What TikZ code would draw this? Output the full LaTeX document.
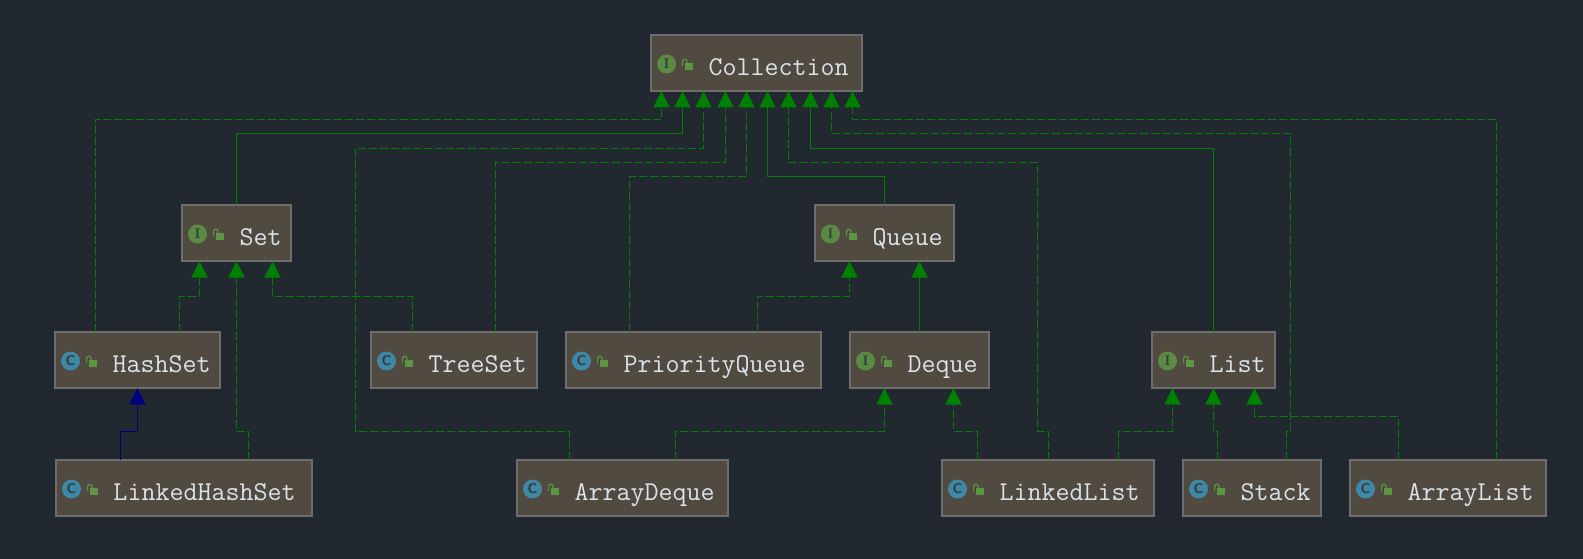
\documentclass[tikz,border=0pt]{standalone}
\usetikzlibrary{arrows.meta}

\definecolor{bgc}{HTML}{21282F}
\definecolor{boxc}{HTML}{504A40}
\definecolor{edgec}{HTML}{6E6E6E}
\definecolor{namec}{HTML}{DCE3E8}
\definecolor{linkc}{HTML}{008000}
\definecolor{navyc}{HTML}{000080}
\definecolor{ifacec}{HTML}{5B8A45}
\definecolor{classc}{HTML}{3E88A6}
\definecolor{lockc}{HTML}{5C9642}
\definecolor{letterc}{HTML}{2F3B3C}

\tikzstyle{b} = [rectangle, draw=edgec, fill=boxc, line width=1.1pt, outer sep=0pt, inner xsep=0pt, inner ysep=0pt, minimum height=56pt, align=left, text=namec, text height=30pt, text depth=4.6pt, font=\fontsize{27.2}{30}\selectfont\ttfamily, execute at begin node=\hspace*{57.5pt}]
\tikzstyle{badge} = [circle, inner sep=0pt, minimum size=19pt, text=letterc, font=\fontsize{14}{14}\selectfont]
\tikzstyle{impl} = [draw=linkc, line width=1.7pt, dash pattern=on 8pt off 3pt, -{Triangle[width=16pt,length=16.5pt,fill=linkc]}]
\tikzstyle{ext} = [draw=linkc, line width=1.7pt, -{Triangle[width=16pt,length=16.5pt,fill=linkc]}]
\tikzstyle{extc} = [draw=navyc, line width=1.7pt, -{Triangle[width=16pt,length=16.5pt,fill=navyc]}]

\newcommand{\ifaceletter}{\rmfamily\bfseries I}
\newcommand{\classletter}{\sffamily\bfseries C}

% badge and lock in front of a name
\newcommand{\icons}[3]{
\begin{scope}[shift={(#1.west)}]
\node [badge, fill=#3] (#1badge) at (15.5,1) {#2};
\fill [lockc] (33.6,0) rectangle (42,6.7);
\draw [lockc, line width=1.2pt] (31.6,3) -- (31.6,-1.5) .. controls (31.6,-4.5) and (36,-4.5) .. (36,-1.5) -- (36,0);
\end{scope}
}

\begin{document}
\begin{tikzpicture}[x=1pt,y=-1pt]
\fill [bgc] (0,0) rectangle (1583,559);

\node [b, text width=211pt] (Collection) at (756.5,63) {Collection};
\node [b, text width=109pt] (Set) at (236.5,233) {Set};
\node [b, text width=139pt] (Queue) at (884.5,233) {Queue};
\node [b, text width=165pt] (HashSet) at (137.5,360) {HashSet};
\node [b, text width=166pt] (TreeSet) at (454,360) {TreeSet};
\node [b, text width=255pt] (PriorityQueue) at (693.5,360) {PriorityQueue};
\node [b, text width=139pt] (Deque) at (919.5,360) {Deque};
\node [b, text width=123pt] (List) at (1213.5,360) {List};
\node [b, text width=256pt] (LinkedHashSet) at (184,488) {LinkedHashSet};
\node [b, text width=211pt] (ArrayDeque) at (622.5,488) {ArrayDeque};
\node [b, text width=212pt] (LinkedList) at (1048,488) {LinkedList};
\node [b, text width=138pt] (Stack) at (1252,488) {Stack};
\node [b, text width=196pt] (ArrayList) at (1448,488) {ArrayList};

\icons{Collection}{\ifaceletter}{ifacec}
\icons{Set}{\ifaceletter}{ifacec}
\icons{Queue}{\ifaceletter}{ifacec}
\icons{Deque}{\ifaceletter}{ifacec}
\icons{List}{\ifaceletter}{ifacec}
\icons{HashSet}{\classletter}{classc}
\icons{TreeSet}{\classletter}{classc}
\icons{PriorityQueue}{\classletter}{classc}
\icons{LinkedHashSet}{\classletter}{classc}
\icons{ArrayDeque}{\classletter}{classc}
\icons{LinkedList}{\classletter}{classc}
\icons{Stack}{\classletter}{classc}
\icons{ArrayList}{\classletter}{classc}

% up to Collection
\draw [impl] ([xshift=40.5pt]HashSet.north west) -- ++(0,-212.5) -| ([xshift=10.5pt]Collection.south west);
\draw [ext] (Set.north) -- ++(0,-71.5) -| ([xshift=31.5pt]Collection.south west);
\draw [impl] ([xshift=52.5pt]ArrayDeque.north west) -- ++(0,-28.5) -| ++(-214,-283) -| ([xshift=52.5pt]Collection.south west);
\draw [impl] ([xshift=124.5pt]TreeSet.north west) -- ++(0,-169.5) -| ([xshift=74.5pt]Collection.south west);
\draw [impl] ([xshift=63.5pt]PriorityQueue.north west) -- ++(0,-155.5) -| ([xshift=95.5pt]Collection.south west);
\draw [ext] (Queue.north) -- ++(0,-28.5) -| ([xshift=116.5pt]Collection.south west);
\draw [impl] ([xshift=106.5pt]LinkedList.north west) -- ++(0,-28.5) -| ++(-11,-269) -| ([xshift=137.5pt]Collection.south west);
\draw [ext] (List.north) -- ++(0,-183.5) -| ([xshift=159.5pt]Collection.south west);
\draw [impl] ([xshift=103.5pt]Stack.north west) -- ++(0,-28.5) -| ++(4,-298) -| ([xshift=180.5pt]Collection.south west);
\draw [impl] ([xshift=146.5pt]ArrayList.north west) -- ++(0,-340.5) -| ([xshift=201.5pt]Collection.south west);

% up to Set
\draw [impl] ([xshift=124.5pt]HashSet.north west) -- ++(0,-35.5) -| ([xshift=17.5pt]Set.south west);
\draw [impl] ([xshift=192.5pt]LinkedHashSet.north west) -- ++(0,-28.5) -| (Set.south);
\draw [impl] ([xshift=41.5pt]TreeSet.north west) -- ++(0,-35.5) -| ([xshift=90.5pt]Set.south west);

% up to Queue and Deque
\draw [impl] ([xshift=191.5pt]PriorityQueue.north west) -- ++(0,-35.5) -| ([xshift=34.5pt]Queue.south west);
\draw [ext] (Deque.north) -- (Deque.north |- Queue.south);
\draw [impl] ([xshift=158.5pt]ArrayDeque.north west) -- ++(0,-28.5) -| ([xshift=34.5pt]Deque.south west);
\draw [impl] ([xshift=35.5pt]LinkedList.north west) -- ++(0,-28.5) -| ([xshift=103.5pt]Deque.south west);

% up to List
\draw [impl] ([xshift=176.5pt]LinkedList.north west) -- ++(0,-28.5) -| ([xshift=20.5pt]List.south west);
\draw [impl] ([xshift=34.5pt]Stack.north west) -- ++(0,-28.5) -| (List.south);
\draw [impl] ([xshift=48.5pt]ArrayList.north west) -- ++(0,-43.5) -| ([xshift=102.5pt]List.south west);

\draw [extc] ([xshift=64.5pt]LinkedHashSet.north west) -- ++(0,-28.5) -| (HashSet.south);
\end{tikzpicture}
\end{document}
